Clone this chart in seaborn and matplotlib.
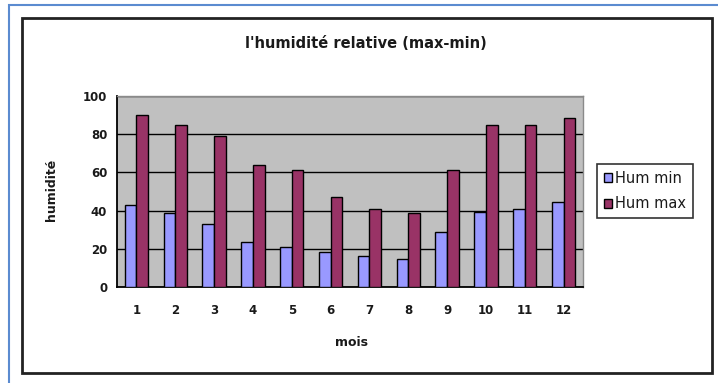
import numpy as np
import pandas as pd
import seaborn as sns
import matplotlib.pyplot as plt
from matplotlib.patches import Rectangle

# monthly relative humidity (%)
mois = [1, 2, 3, 4, 5, 6, 7, 8, 9, 10, 11, 12]
hum_min = [43, 39, 33, 23.5, 21, 18.5, 16, 14.5, 29, 39.5, 41, 44.5]
hum_max = [90, 85, 79, 64, 61, 47, 41, 39, 61, 85, 85, 88.5]
series = ["Hum min", "Hum max"]
colors = ["#9999FF", "#993366"]

df = pd.DataFrame({
    "mois": mois * 2,
    "humidite": hum_min + hum_max,
    "serie": [series[0]] * len(mois) + [series[1]] * len(mois),
})

sns.set_style("white")
plt.rcParams['font.family'] = ['DejaVu Sans']
txt = "#1a1a1a"

W, H = 718, 383
fig = plt.figure(figsize=(W / 100, H / 100), dpi=100)

# frames (blue outer, black chart area)
fig.patches.append(Rectangle((9 / W, -0.1), 1.2, 1 - 5 / H + 0.1, transform=fig.transFigure,
                             fill=False, edgecolor="#5B8BD0", lw=1.5, zorder=0))
fig.patches.append(Rectangle((22 / W, 1 - 373 / H), (712 - 22) / W, (373 - 18) / H,
                             transform=fig.transFigure, fill=False, edgecolor="#222222",
                             lw=2, zorder=0))

ax = fig.add_axes([117 / W, 1 - 287 / H, (583 - 117) / W, (287 - 96) / H])
ax.set_facecolor("#C0C0C0")

sns.barplot(data=df, x="mois", y="humidite", hue="serie", palette=colors, saturation=1,
            width=0.6, edgecolor="black", linewidth=1, ax=ax, zorder=3)

ax.set_ylim(0, 100)
ax.set_xlim(-0.5, len(mois) - 0.5)
ax.set_yticks([0, 20, 40, 60, 80, 100])
ax.set_axisbelow(True)
ax.yaxis.grid(True, color="black", lw=1)
ax.xaxis.grid(False)

ax.set_xticks(np.arange(len(mois)))
ax.set_xticklabels(mois)
ax.set_xticks(np.arange(-0.5, len(mois)), minor=True)
ax.tick_params(axis="x", which="major", length=0, pad=12, labelsize=8.5, labelcolor=txt)
ax.tick_params(axis="x", which="minor", length=4, width=1.2, direction="out", color="black")
ax.tick_params(axis="y", length=4, width=1.2, direction="out", color="black",
               labelsize=8.5, labelcolor=txt, pad=3)
for lab in ax.get_xticklabels() + ax.get_yticklabels():
    lab.set_fontweight("bold")

for s in ["left", "bottom"]:
    ax.spines[s].set_color("black")
    ax.spines[s].set_linewidth(1.3)
for s in ["top", "right"]:
    ax.spines[s].set_color("#8a8a8a")
    ax.spines[s].set_linewidth(1)

ax.set_xlabel("")
ax.set_ylabel("")
fig.text(52 / W, 1 - 190 / H, "humidité", rotation=90, ha="center", va="center",
         fontsize=9, fontweight="bold", color=txt)
fig.text(352 / W, 1 - 343 / H, "mois", ha="center", va="center",
         fontsize=9, fontweight="bold", color=txt)
fig.text(366 / W, 1 - 43 / H, "l'humidité relative (max-min)", ha="center", va="center",
         fontsize=10.5, fontweight="bold", color=txt)

handles, labels = ax.get_legend_handles_labels()
ax.get_legend().remove()
leg = fig.legend(handles, labels, loc="upper left", bbox_to_anchor=(597 / W, 1 - 164 / H),
                 frameon=True, fancybox=False, edgecolor="black", fontsize=10.5,
                 handlelength=0.6, handleheight=0.6, handletextpad=0.2,
                 borderpad=0.45, labelspacing=0.75, borderaxespad=0)
leg.get_frame().set_linewidth(1.2)
for t in leg.get_texts():
    t.set_color(txt)

fig.savefig("out.png", dpi=100)
